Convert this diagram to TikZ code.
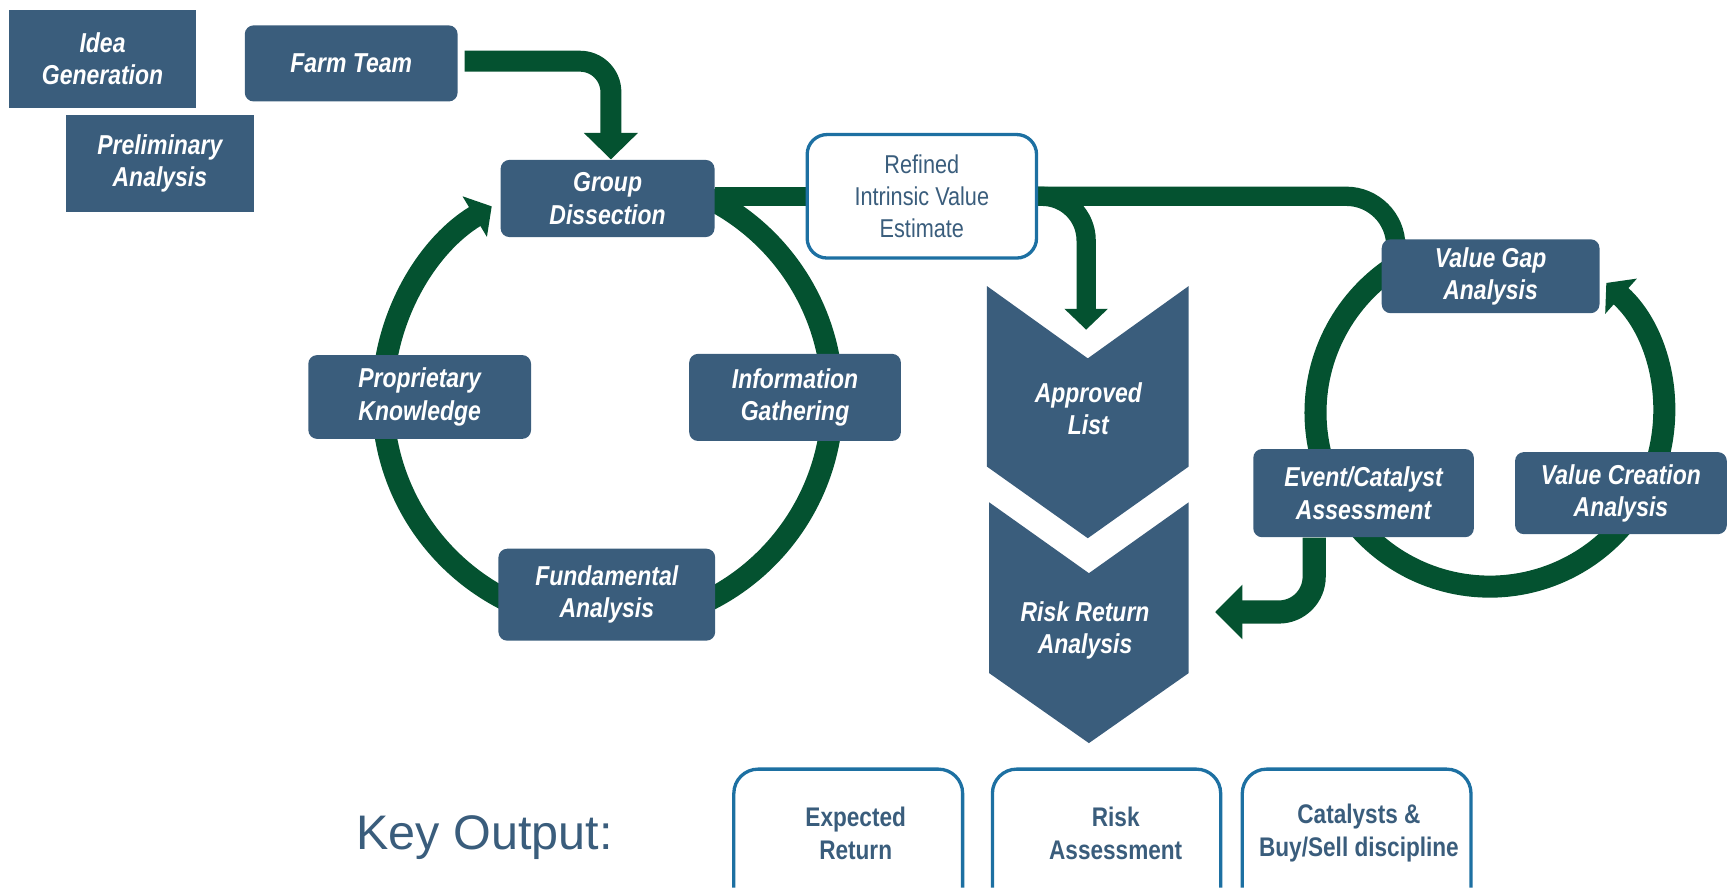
\documentclass[tikz,border=0pt]{standalone}
\usepackage{fontspec}
\setmainfont{Liberation Sans}[FakeStretch=0.84]
\newfontfamily\keyfont{Liberation Sans}
\usetikzlibrary{arrows.meta,calc}
\pgfdeclarelayer{bg}
\pgfsetlayers{bg,main}
\definecolor{slate}{RGB}{58,93,124}
\definecolor{dgreen}{RGB}{4,82,48}
\definecolor{bblue}{RGB}{29,112,162}
\begin{document}
\begin{tikzpicture}[x=0.5pt,y=-0.5pt,
  dbox/.style={fill=slate, text=white, font=\bfseries\itshape\fontsize{12.4}{14.6}\selectfont,
    align=center, inner sep=0pt, rounded corners=4pt},
  sqbox/.style={dbox, rounded corners=0pt},
  wtext/.style={text=white, font=\bfseries\itshape\fontsize{12.4}{14.6}\selectfont, align=center, inner sep=0pt},
  refbox/.style={draw=bblue, line width=1.5pt, fill=white, rounded corners=9pt, text=slate,
    font=\fontsize{11.7}{14.35}\selectfont, align=center, inner sep=0pt},
  ktext/.style={text=slate, font=\bfseries\fontsize{12.2}{15}\selectfont, align=center, inner sep=0pt},
  kline/.style={draw=bblue, line width=1.5pt, rounded corners=11pt},
  ring/.style={draw=dgreen, line width=10pt},
  band/.style={draw=dgreen, line width=8.75pt},
  arcHead/.style={-{Triangle[width=21pt,length=9pt]}}
]
\useasboundingbox (0,0) rectangle (1568,805);

% boxes
\node[sqbox, minimum width=85pt, minimum height=44.5pt] (idea) at (93,53.5) {Idea\\Generation};
\node[sqbox, minimum width=85pt, minimum height=44pt] (prelim) at (145,148) {Preliminary\\Analysis};
\node[dbox, minimum width=96.5pt, minimum height=34.5pt] (farm) at (318.5,57.5) {Farm Team};
\node[dbox, minimum width=97pt, minimum height=35pt] (gd) at (551,180) {Group\\Dissection};
\node[dbox, minimum width=101pt, minimum height=38pt] (pk) at (380.6,360) {Proprietary\\Knowledge};
\node[dbox, minimum width=96pt, minimum height=39.5pt] (ig) at (721,360.4) {Information\\Gathering};
\node[dbox, minimum width=98.3pt, minimum height=41.7pt] (fa) at (550.3,539.3) {Fundamental\\Analysis};
\node[refbox, minimum width=104pt, minimum height=56pt] (refined) at (836,178) {Refined\\Intrinsic Value\\Estimate};
\node[dbox, minimum width=98.75pt, minimum height=33.5pt] (vg) at (1351.8,250.5) {Value Gap\\Analysis};
\node[dbox, minimum width=100pt, minimum height=40pt] (ec) at (1236.6,447.2) {Event/Catalyst\\Assessment};
\node[dbox, minimum width=96pt, minimum height=37.2pt] (vc) at (1470,447.2) {Value Creation\\Analysis};

% chevrons
\fill[slate] (895,259.4) -- (986.5,325) -- (1078,259.4) -- (1078,423.1) -- (986.5,488.1) -- (895,423.1) -- cycle;
\fill[slate] (897,455.5) -- (987.5,519.8) -- (1078,455.5) -- (1078,610.4) -- (987.5,673.9) -- (897,610.4) -- cycle;
\node[wtext] (approved) at (987,371) {Approved\\List};
\node[wtext] (riskret) at (984,572) {Risk Return\\Analysis};

% key output
\node[anchor=base west, text=slate, font=\keyfont\fontsize{22}{26}\selectfont, inner sep=0pt] (keyout) at (323,770) {Key Output:};
\draw[kline] (665.5,805) -- (665.5,697.5) -- (873,697.5) -- (873,805);
\draw[kline] (900,805) -- (900,697.5) -- (1107,697.5) -- (1107,805);
\draw[kline] (1126.6,805) -- (1126.6,697.5) -- (1334,697.5) -- (1334,805);
\node[ktext] (out1) at (776,755.7) {Expected\\Return};
\node[ktext] (out2) at (1011.8,755.7) {Risk\\Assessment};
\node[ktext] (out3) at (1232.4,755.7) {Catalysts \&\\Buy/Sell discipline};

\coordinate (c1) at (551,362);
\coordinate (c2) at (1351,374);
\coordinate (apptip) at (985,299);
\coordinate (rrtip) at (1102,555);

\begin{pgfonlayer}{bg}
  % left ring
  \draw[ring, arcHead] ($(c1)+(185:204)$) arc[start angle=185, end angle=239, radius=204];
  \draw[ring] ($(c1)+(175:204)$) arc[start angle=175, end angle=115, radius=204];
  \draw[ring] ($(c1)+(5:204)$) arc[start angle=5, end angle=65, radius=204];
  \draw[ring] ($(c1)+(355:204)$) arc[start angle=355, end angle=295, radius=204];
  % right ring
  \draw[ring] ($(c2)+(240:158)$) arc[start angle=240, end angle=145, radius=158];
  \draw[ring] ($(c2)+(140:158)$) arc[start angle=140, end angle=40, radius=158];
  \draw[ring, arcHead] ($(c2)+(20:158)$) arc[start angle=20, end angle=-48, radius=158];
  % connectors
  \draw[draw=dgreen, line width=9.5pt, rounded corners=14pt, -{Triangle[width=23.75pt,length=12pt]}]
    ([xshift=3pt,yshift=1pt]farm.east) -| ([xshift=1.5pt]gd.north);
  \draw[band] (gd.east |- refined.west) -- (refined.west);
  \draw[band, rounded corners=22.5pt] (refined.east) -| ([xshift=-43pt]vg.north);
  \draw[band, rounded corners=20pt, -{Triangle[width=19.2pt,length=9.5pt]}] (refined.east) -| (apptip);
  \draw[draw=dgreen, line width=10.5pt, rounded corners=16pt, -{Triangle[width=24pt,length=12.3pt]}]
    ([xshift=-22.4pt]ec.south) |- (rrtip);
\end{pgfonlayer}
\end{tikzpicture}
\end{document}
